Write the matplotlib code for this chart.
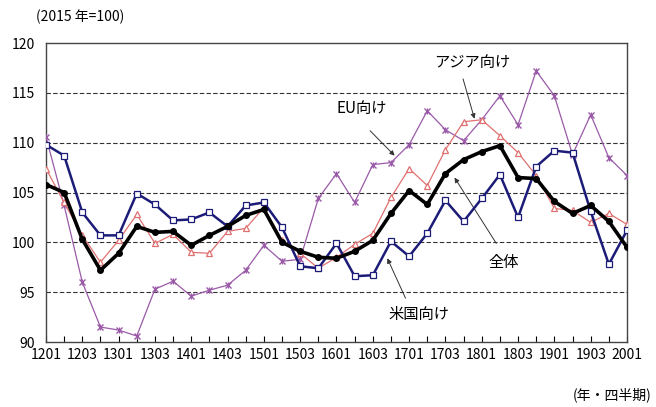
import matplotlib
matplotlib.use("Agg")
import matplotlib.pyplot as plt

plt.rcParams['font.family'] = ['Noto Sans CJK JP', 'DejaVu Sans']

# quarter labels (yyq), 2012Q1 .. 2020Q1
quarters = ['1201', '1202', '1203', '1204', '1301', '1302', '1303', '1304',
            '1401', '1402', '1403', '1404', '1501', '1502', '1503', '1504',
            '1601', '1602', '1603', '1604', '1701', '1702', '1703', '1704',
            '1801', '1802', '1803', '1804', '1901', '1902', '1903', '1904', '2001']

total = [105.8, 105.0, 100.3, 97.2, 98.9, 101.6, 101.0, 101.1,
         99.7, 100.7, 101.6, 102.7, 103.3, 100.0, 99.1, 98.5,
         98.4, 99.1, 100.2, 102.9, 105.2, 103.8, 106.9, 108.3,
         109.1, 109.7, 106.5, 106.4, 104.1, 102.9, 103.7, 102.1, 99.5]

usa = [109.8, 108.7, 103.0, 100.7, 100.7, 104.9, 103.8, 102.2,
       102.3, 103.0, 101.6, 103.7, 104.0, 101.5, 97.6, 97.4,
       99.9, 96.6, 96.7, 100.1, 98.6, 100.9, 104.2, 102.1,
       104.4, 106.8, 102.5, 107.6, 109.2, 109.0, 103.1, 97.8, 101.2]

asia = [107.4, 104.0, 100.7, 98.0, 100.2, 102.8, 99.9, 100.8,
        99.0, 98.9, 101.1, 101.4, 103.5, 100.2, 98.9, 97.4,
        98.5, 99.8, 100.9, 104.5, 107.4, 105.7, 109.3, 112.1,
        112.3, 110.7, 109.0, 106.7, 103.4, 103.2, 102.0, 102.9, 101.8]

eu = [110.6, 103.7, 96.0, 91.5, 91.2, 90.6, 95.3, 96.1,
      94.6, 95.2, 95.7, 97.2, 99.7, 98.1, 98.3, 104.4,
      106.9, 104.0, 107.8, 108.0, 109.8, 113.2, 111.3, 110.2,
      112.3, 114.7, 111.8, 117.2, 114.7, 108.8, 112.8, 108.5, 106.7]

x = list(range(len(quarters)))

fig = plt.figure(figsize=(6.56, 4.07), dpi=100)
ax = fig.add_axes([0.0701, 0.1597, 0.8857, 0.7346])

eu_color = '#9a5aa8'
ax.plot(x, eu, color=eu_color, lw=0.9, marker='x', ms=4.5, mew=1.0, zorder=3)
ax.plot(x, eu, color=eu_color, ls='none', marker='|', ms=4.5, mew=0.9, zorder=3)
ax.plot(x, asia, color='#e07070', lw=0.9, marker='^', ms=4.5, mfc='white',
        mec='#e07070', mew=0.9, zorder=4)
ax.plot(x, usa, color='#1c1c78', lw=1.8, marker='s', ms=4.5, mfc='white',
        mec='#1c1c78', mew=0.9, zorder=5)
ax.plot(x, total, color='black', lw=2.6, marker='o', ms=4, zorder=6)

ax.set_xlim(0, len(quarters) - 1)
ax.set_ylim(90, 120)
ax.set_yticks([90, 95, 100, 105, 110, 115, 120])
ax.set_xticks(x)
ax.set_xticklabels([q if i % 2 == 0 else '' for i, q in enumerate(quarters)])
ax.tick_params(axis='x', direction='in', length=4, labelsize=10, pad=4)
ax.tick_params(axis='y', length=0, labelsize=10, pad=8)

for yv in [95, 100, 105, 110, 115]:
    ax.axhline(yv, color='#333333', lw=0.8, ls=(0, (4, 2)), zorder=1)

for s in ax.spines.values():
    s.set_color('#444444')
    s.set_linewidth(1.0)

arrow = dict(arrowstyle='-|>', color='#333333', lw=0.7, mutation_scale=7,
             shrinkA=0, shrinkB=0)
ax.annotate('', xy=(23.6, 112.4), xytext=(22.97, 116.4), arrowprops=arrow)
ax.annotate('', xy=(19.2, 108.7), xytext=(17.85, 111.2), arrowprops=arrow)
ax.annotate('', xy=(22.5, 106.5), xytext=(24.8, 99.9), arrowprops=arrow)
ax.annotate('', xy=(18.8, 98.4), xytext=(19.8, 94.4), arrowprops=arrow)

ax.text(23.5, 118.0, 'アジア向け', ha='center', va='center', fontsize=11)
ax.text(17.4, 113.4, 'EU向け', ha='center', va='center', fontsize=11)
ax.text(25.2, 98.0, '全体', ha='center', va='center', fontsize=11)
ax.text(20.55, 92.8, '米国向け', ha='center', va='center', fontsize=11)

fig.text(36 / 656, 1 - 17 / 407, '(2015 年=100)', ha='left', va='center', fontsize=10)
fig.text(652 / 656, 1 - 395 / 407, '(年・四半期)', ha='right', va='center', fontsize=10)

fig.savefig('out.png', dpi=100)
